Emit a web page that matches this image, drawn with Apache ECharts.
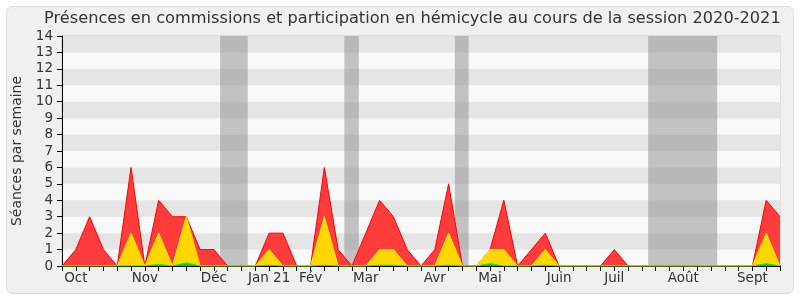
<!DOCTYPE html>
<html>
<head>
<meta charset="utf-8">
<script src="https://cdn.jsdelivr.net/npm/echarts@6/dist/echarts.min.js"></script>
<style>
html,body{margin:0;padding:0;background:#fff;}
#c{width:800px;height:300px;}
</style>
</head>
<body>
<div id="c"></div>
<script>
// Weekly points, index 0..52 (week boundaries)
var totalSeances = [0,1,3,1,0,6,0,4,3,3,1,1,0,0,0,2,2,0,0,6,1,0,2,4,3,1,0,1,5,0,0,1,4,0,1,2,0,0,0,0,1,0,0,0,0,0,0,0,0,0,0,4,3];
var hemicycle    = [0,0,0,0,0,2,0,2,0,3,0,0,0,0,0,1,0,0,0,3,0,0,0,1,1,0,0,0,2,0,0,1,1,0,0,1,0,0,0,0,0,0,0,0,0,0,0,0,0,0,0,2,0];
var interventions= [0,0,0,0,0,0,0,0.1,0,0.2,0,0,0,0,0,0.05,0,0,0,0.05,0,0,0,0.05,0.05,0,0,0,0.05,0,0,0.15,0,0,0,0.05,0,0,0,0,0,0,0,0,0,0,0,0,0,0,0,0.15,0];
var monthTickIdx = [1,6,11,15,18,22,27,31,36,40,45,50];
var monthLabels  = ['Oct','Nov','Déc','Jan 21','Fév','Mar','Avr','Mai','Juin','Juil','Août','Sept'];
var vacations = [[11.45,13.45],[20.45,21.5],[28.45,29.45],[42.45,47.45]];
var titleText = 'Présences en commissions et participation en hémicycle au cours de la session 2020-2021';
var yAxisName = 'Séances par semaine';

function pairs(arr){ return arr.map(function(v,i){ return [i,v]; }); }
var labelMap = {};
monthTickIdx.forEach(function(t,i){ labelMap[t] = monthLabels[i]; });

var FONT = 'DejaVu Sans';
var chart = echarts.init(document.getElementById('c'), null, {renderer:'canvas'});
chart.setOption({
  animation:false,
  backgroundColor:'#ffffff',
  textStyle:{fontFamily:FONT},
  graphic:[{
    type:'rect', z:-10, silent:true,
    shape:{x:6.5,y:6.5,width:787,height:287,r:6},
    style:{fill:'#f0f0f0', stroke:'#dddddd', lineWidth:1}
  }],
  title:{
    text:titleText, left:44, top:11, padding:0,
    textStyle:{fontFamily:FONT, fontSize:16.2, fontWeight:'normal', color:'#333333'}
  },
  grid:{left:62, right:20, top:36, bottom:34, show:true, backgroundColor:'transparent', borderColor:'#cccccc', borderWidth:1},
  xAxis:[{
    type:'value', min:0, max:52, interval:1,
    axisLine:{show:true, onZero:false, lineStyle:{color:'#000', width:1}},
    axisTick:{show:true, length:5, lineStyle:{color:'#000'}},
    axisLabel:{interval:0, fontFamily:FONT, fontSize:13.5, color:'#333', margin:5,
      formatter:function(v){ return labelMap[v] || ''; }},
    splitLine:{show:false}
  },{
    type:'value', min:0, max:52, interval:1, position:'top',
    axisLine:{show:false},
    axisTick:{show:true, length:1, lineStyle:{color:'#333'}},
    axisLabel:{show:false},
    splitLine:{show:false}
  }],
  yAxis:{
    type:'value', min:0, max:14, interval:1,
    name:yAxisName, nameLocation:'middle', nameGap:38, nameRotate:90,
    nameTextStyle:{fontFamily:FONT, fontSize:14, color:'#333'},
    axisLine:{show:true, lineStyle:{color:'#000'}},
    axisTick:{show:true, length:5, lineStyle:{color:'#000'}},
    axisLabel:{fontFamily:FONT, fontSize:13.5, color:'#333', margin:9},
    splitLine:{show:false},
    splitArea:{show:true, areaStyle:{color:['#f9f9f9','#e5e5e5']}}
  },
  series:[{
    type:'line', data:pairs(totalSeances), symbol:'none', z:2,
    lineStyle:{color:'#ff0000', width:1},
    areaStyle:{color:'#ff3c3c', opacity:1},
    markArea:{silent:true, itemStyle:{color:'rgba(140,140,140,0.5)'},
      data:vacations.map(function(v){ return [{xAxis:v[0], yAxis:0},{xAxis:v[1], yAxis:14}]; })}
  },{
    type:'line', data:pairs(hemicycle), symbol:'none', z:3,
    lineStyle:{color:'#ffee00', width:1},
    areaStyle:{color:'#ffd700', opacity:1}
  },{
    type:'line', data:pairs(interventions), symbol:'none', z:4,
    lineStyle:{color:'#00ff00', width:1},
    areaStyle:{color:'#00cc00', opacity:1}
  }]
});
</script>
</body>
</html>
